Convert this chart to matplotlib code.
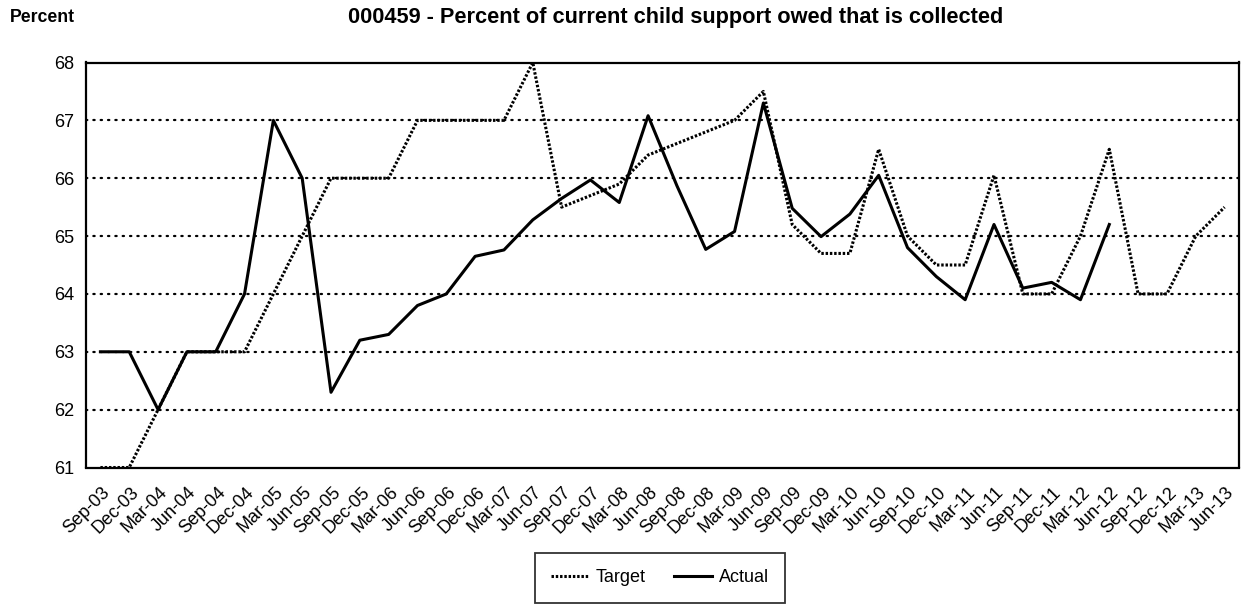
import numpy as np
import matplotlib
matplotlib.use('Agg')
import matplotlib.pyplot as plt
import matplotlib.transforms as mtransforms

plt.rcParams['font.family'] = ['Liberation Sans', 'DejaVu Sans']

# Trimestres (rótulos do eixo x)
quarters = ['Sep-03', 'Dec-03', 'Mar-04', 'Jun-04', 'Sep-04', 'Dec-04', 'Mar-05', 'Jun-05',
            'Sep-05', 'Dec-05', 'Mar-06', 'Jun-06', 'Sep-06', 'Dec-06', 'Mar-07', 'Jun-07',
            'Sep-07', 'Dec-07', 'Mar-08', 'Jun-08', 'Sep-08', 'Dec-08', 'Mar-09', 'Jun-09',
            'Sep-09', 'Dec-09', 'Mar-10', 'Jun-10', 'Sep-10', 'Dec-10', 'Mar-11', 'Jun-11',
            'Sep-11', 'Dec-11', 'Mar-12', 'Jun-12', 'Sep-12', 'Dec-12', 'Mar-13', 'Jun-13']

target = [61, 61, 62, 63, 63, 63, 64, 65, 66, 66, 66, 67, 67, 67, 67, 68,
          65.5, 65.7, 65.9, 66.4, 66.6, 66.8, 67.0, 67.5, 65.2, 64.7, 64.7, 66.5,
          65.0, 64.5, 64.5, 66.05, 64.0, 64.0, 65.0, 66.5, 64.0, 64.0, 65.0, 65.5]

actual = [63, 63, 62, 63, 63, 64, 67, 66, 62.3, 63.2, 63.3, 63.8, 64.0, 64.65, 64.76, 65.28,
          65.65, 65.97, 65.58, 67.08, 65.87, 64.77, 65.08, 67.3, 65.48, 64.99, 65.38, 66.05,
          64.8, 64.3, 63.9, 65.2, 64.1, 64.2, 63.9, 65.2,
          np.nan, np.nan, np.nan, np.nan]

yticks = [61, 62, 63, 64, 65, 66, 67, 68]

fig = plt.figure(figsize=(12.46, 6.07), dpi=100)
ax = fig.add_axes([86 / 1246, 1 - 467.5 / 607, (1239 - 86) / 1246, (467.5 - 62.5) / 607])

x = np.arange(len(quarters))

# Linhas de grade pontilhadas
for yv in yticks[1:]:
    ax.axhline(yv, color='black', linewidth=1.6, linestyle=(0, (0.6, 2.7)),
               dash_capstyle='round', zorder=1)

ax.plot(x, target, color='black', linewidth=2.2, linestyle=(0, (0.8, 0.6)),
        label='Target', zorder=3)
ax.plot(x, actual, color='black', linewidth=2.2, label='Actual', zorder=4)

ax.set_xlim(-0.5, len(quarters) - 0.5)
ax.set_ylim(61, 68)
ax.set_yticks(yticks)
ax.set_yticklabels([str(v) for v in yticks], fontsize=13)
ax.set_xticks(x)
ax.set_xticklabels(quarters, fontsize=13, rotation=45, ha='right', va='center',
                   rotation_mode='anchor')
ax.tick_params(axis='both', length=0)
ax.tick_params(axis='x', pad=16)
ax.tick_params(axis='y', pad=8.5)

# deslocar rótulos do eixo x um pouco para a direita
shift = mtransforms.ScaledTranslation(7 / 100, 0, fig.dpi_scale_trans)
for lbl in ax.get_xticklabels():
    lbl.set_transform(lbl.get_transform() + shift)

for s in ax.spines.values():
    s.set_linewidth(1.6)
    s.set_color('black')

fig.text(10 / 1246, 1 - 18 / 607, 'Percent', fontsize=12.7, fontweight='bold',
         ha='left', va='center')
fig.text(676 / 1246, 1 - 18 / 607, '000459 - Percent of current child support owed that is collected',
         fontsize=15.7, fontweight='bold', ha='center', va='center')

leg = fig.legend(loc='center', bbox_to_anchor=(660 / 1246, 1 - 578 / 607), ncol=2,
                 fontsize=13, frameon=True, fancybox=False, edgecolor='black',
                 handlelength=2.1, handletextpad=0.35, columnspacing=1.6,
                 borderpad=0.9)
leg.get_frame().set_linewidth(1.3)

fig.savefig('out.png', dpi=100)
